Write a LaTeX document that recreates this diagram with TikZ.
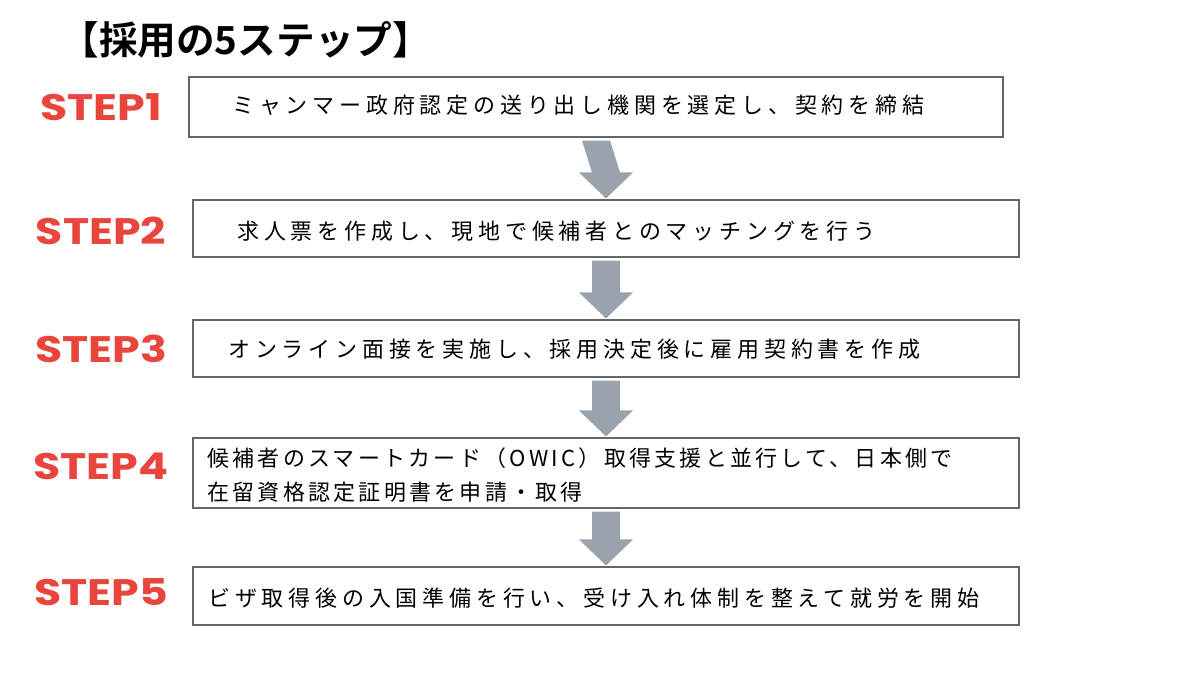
\documentclass[tikz,border=0pt]{standalone}
\usepackage{fontspec}
\setmainfont{Noto Sans CJK JP}
\newfontfamily\jpbold{Noto Sans CJK JP Bold}
\newfontfamily\stepfont[FakeStretch=1.2]{Poppins}
\newfontfamily\jpwide[LetterSpace=22]{Noto Sans CJK JP}
\newfontfamily\jpnarrow[LetterSpace=15]{Noto Sans CJK JP}
\usetikzlibrary{calc}
\definecolor{stepred}{HTML}{E8453C}
\definecolor{arrowgray}{HTML}{9AA3AD}

\begin{document}
\begin{tikzpicture}[
  x=0.02cm, y=-0.02cm,
  box/.style={rectangle, draw=black!60, line width=0.6pt, fill=white},
  steplabel/.style={font=\stepfont\bfseries\fontsize{21}{24}\selectfont, text=stepred, inner sep=0pt},
  boxtext/.style={anchor=west, inner sep=0pt, align=left},
  flow/.style={fill=arrowgray}
]
\useasboundingbox (0,0) rectangle (1200,675);

% Title
\node[anchor=west, inner sep=0pt, font=\jpbold\fontsize{22}{26}\selectfont] (title) at (60,40) {【採用の5ステップ】};

% Boxes
\node[box, minimum width=814*0.02cm, minimum height=60*0.02cm] (s1) at (596,107) {};
\node[box, minimum width=826*0.02cm, minimum height=57*0.02cm] (s2) at (606,228.5) {};
\node[box, minimum width=826*0.02cm, minimum height=57*0.02cm] (s3) at (606,348.5) {};
\node[box, minimum width=826*0.02cm, minimum height=70*0.02cm] (s4) at (606,473) {};
\node[box, minimum width=826*0.02cm, minimum height=58*0.02cm] (s5) at (606,596) {};

% Texts
\node[boxtext, font=\jpwide\fontsize{12.5}{19}\selectfont] (t1) at (232,105) {ミャンマー政府認定の送り出し機関を選定し、契約を締結};
\node[boxtext, font=\jpwide\fontsize{12.5}{19}\selectfont] (t2) at (237,231) {求人票を作成し、現地で候補者とのマッチングを行う};
\node[boxtext, font=\jpwide\fontsize{12.5}{19}\selectfont] (t3) at (228,349) {オンライン面接を実施し、採用決定後に雇用契約書を作成};
\node[boxtext, font=\jpnarrow\fontsize{12.5}{19}\selectfont] (t4) at (207,475) {候補者のスマートカード（OWIC）取得支援と並行して、日本側で\\在留資格認定証明書を申請・取得};
\node[boxtext, font=\jpwide\fontsize{12.5}{19}\selectfont] (t5) at (208,598) {ビザ取得後の入国準備を行い、受け入れ体制を整えて就労を開始};

% Step labels
\node[steplabel] (l1) at (101,107) {STEP1};
\node[steplabel] (l2) at (101,231) {STEP2};
\node[steplabel] (l3) at (101,349) {STEP3};
\node[steplabel] (l4) at (101,466) {STEP4};
\node[steplabel] (l5) at (101,592) {STEP5};

% Block arrows
\foreach \a/\b in {s1/s2, s2/s3, s3/s4, s4/s5} {
  \path (598,0) |- (\a.south) coordinate (top);
  \path (598,0) |- (\b.north) coordinate (bot);
  \fill[flow] ($(top)+(-14,3)$) -- ($(top)+(14,3)$) -- ($(bot)+(14,-27)$) -- ($(bot)+(27,-27)$)
    -- ($(bot)+(0,-1)$) -- ($(bot)+(-27,-27)$) -- ($(bot)+(-14,-27)$) -- cycle;
}
\end{tikzpicture}
\end{document}
